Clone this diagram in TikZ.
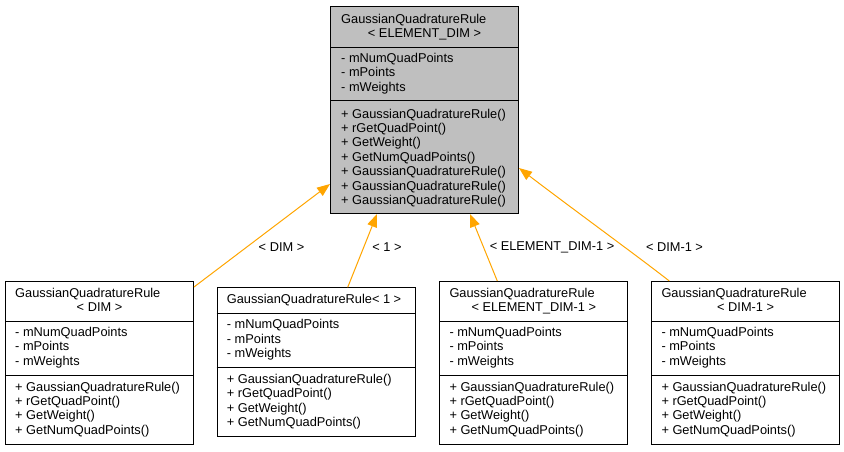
\documentclass[tikz,border=0pt]{standalone}
\usepackage{fontspec}
\setmainfont{Liberation Sans}
\usetikzlibrary{arrows.meta}

\begin{document}
\begin{tikzpicture}[x=1pt,y=-1pt,
  classbox/.style={draw=black,line width=1pt,anchor=north west,inner sep=0pt},
  member/.style={anchor=base west,inner sep=0pt,font=\fontsize{12.8}{14.5}\selectfont},
  heading/.style={anchor=base,inner sep=0pt,font=\fontsize{12.8}{14.5}\selectfont},
  tmpl/.style={inner sep=0pt,font=\fontsize{12.8}{14.5}\selectfont},
  inherit/.style={draw=dorange,line width=1pt,-{Triangle[length=13pt,width=10pt]}}]
\definecolor{dgrey}{HTML}{BFBFBF}
\definecolor{dorange}{HTML}{FFA500}
\useasboundingbox (0,0) rectangle (844,451);

% base class
\node[classbox,fill=dgrey,minimum width=188pt,minimum height=207pt] (base) at (330,6) {};
\draw ([yshift=-41pt]base.north west) -- ([yshift=-41pt]base.north east);
\draw ([yshift=-94pt]base.north west) -- ([yshift=-94pt]base.north east);
\node[member] (base-t1) at ([xshift=11pt,yshift=-17pt]base.north west) {GaussianQuadratureRule};
\node[heading] (base-t2) at ([yshift=-31pt]base.north) {< ELEMENT\_DIM >};
\foreach \mem [count=\i] in {- mNumQuadPoints,- mPoints,- mWeights}
  \node[member] (base-a\i) at ([xshift=11pt,yshift={-(56+14.5*(\i-1))*1pt}]base.north west) {\mem};
\foreach \mem [count=\i] in {+ GaussianQuadratureRule(),+ rGetQuadPoint(),+ GetWeight(),+ GetNumQuadPoints(),+ GaussianQuadratureRule(),+ GaussianQuadratureRule(),+ GaussianQuadratureRule()}
  \node[member] (base-m\i) at ([xshift=11pt,yshift={-(112+14.4*(\i-1))*1pt}]base.north west) {\mem};

% instantiated classes
\foreach \nm/\px/\py/\w/\t in {dimrule/5/281/188/40,onerule/216.7/287.3/198.3/26,elemrule/439.3/281/188/40,dimonerule/651.3/281/187.7/40}
{
  \node[classbox,fill=white,minimum width={\w*1pt},minimum height={(\t+123)*1pt}] (\nm) at (\px,\py) {};
  \draw ([yshift={-\t*1pt}]\nm.north west) -- ([yshift={-\t*1pt}]\nm.north east);
  \draw ([yshift={-(\t+54)*1pt}]\nm.north west) -- ([yshift={-(\t+54)*1pt}]\nm.north east);
  \foreach \mem [count=\i] in {- mNumQuadPoints,- mPoints,- mWeights}
    \node[member] (\nm-a\i) at ([xshift=10pt,yshift={-(\t+15.5+14.4*(\i-1))*1pt}]\nm.north west) {\mem};
  \foreach \mem [count=\i] in {+ GaussianQuadratureRule(),+ rGetQuadPoint(),+ GetWeight(),+ GetNumQuadPoints()}
    \node[member] (\nm-m\i) at ([xshift=10pt,yshift={-(\t+70+14.4*(\i-1))*1pt}]\nm.north west) {\mem};
}
\node[member] (dimrule-t1) at ([xshift=10pt,yshift=-16pt]dimrule.north west) {GaussianQuadratureRule};
\node[heading] (dimrule-t2) at ([yshift=-30pt]dimrule.north) {< DIM >};
\node[member] (onerule-t1) at ([xshift=10pt,yshift=-16pt]onerule.north west) {GaussianQuadratureRule< 1 >};
\node[member] (elemrule-t1) at ([xshift=10pt,yshift=-16pt]elemrule.north west) {GaussianQuadratureRule};
\node[heading] (elemrule-t2) at ([yshift=-30pt]elemrule.north) {< ELEMENT\_DIM-1 >};
\node[member] (dimonerule-t1) at ([xshift=10pt,yshift=-16pt]dimonerule.north west) {GaussianQuadratureRule};
\node[heading] (dimonerule-t2) at ([yshift=-30pt]dimonerule.north) {< DIM-1 >};

% inheritance
\draw[inherit] ([yshift=-6pt]dimrule.north east) -- ([yshift=30pt]base.south west);
\draw[inherit] ([xshift=131pt]onerule.north west) -- ([xshift=47pt]base.south west);
\draw[inherit] ([xshift=58pt]elemrule.north west) -- ([xshift=140pt]base.south west);
\draw[inherit] ([xshift=18pt]dimonerule.north west) .. controls (640,258) and (570,207) .. ([yshift=46pt]base.south east);
\node[tmpl] (lbl-dim) at (281.5,247) {< DIM >};
\node[tmpl] (lbl-one) at (387,247) {< 1 >};
\node[tmpl] (lbl-elem) at (552,247) {< ELEMENT\_DIM-1 >};
\node[tmpl] (lbl-dimone) at (674.5,247) {< DIM-1 >};
\end{tikzpicture}
\end{document}
